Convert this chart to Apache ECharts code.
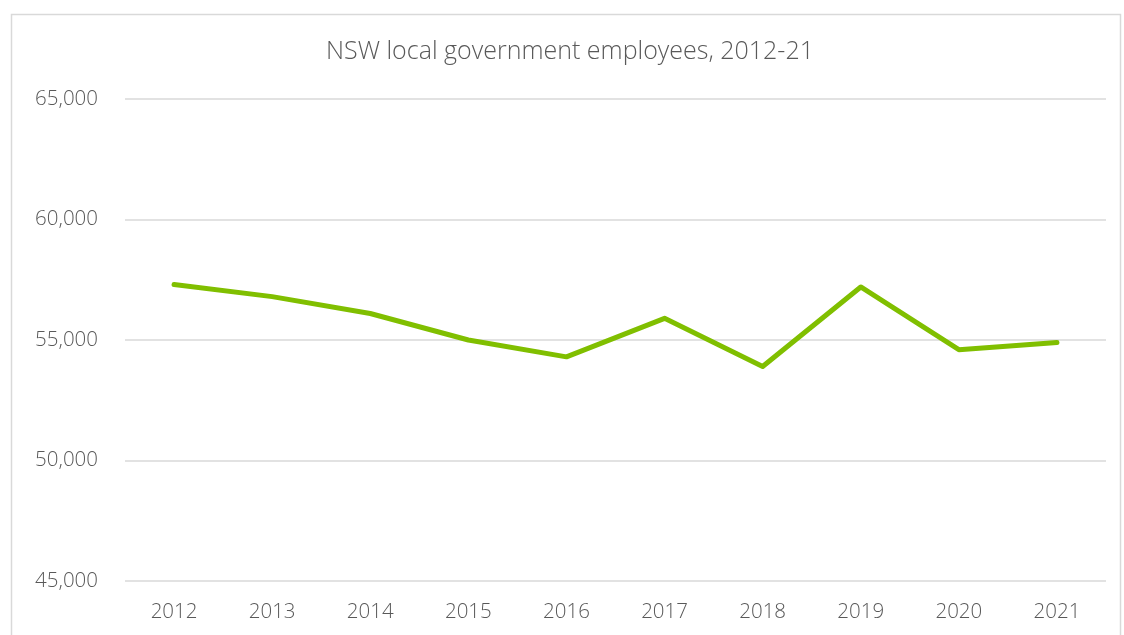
<!DOCTYPE html>
<html>
<head>
<meta charset="utf-8">
<script src="https://cdn.jsdelivr.net/npm/echarts@6/dist/echarts.min.js"></script>
<style>
html,body{margin:0;padding:0;background:#fff;}
#c{width:1124px;height:635px;}
</style>
</head>
<body>
<div id="c"></div>
<script>
const titleText = 'NSW local government employees, 2012-21';
const years = ['2012','2013','2014','2015','2016','2017','2018','2019','2020','2021'];
const employees = [57300, 56800, 56100, 55000, 54300, 55900, 53900, 57200, 54600, 54900];
const yMin = 45000, yMax = 65000, yStep = 5000;

const chart = echarts.init(document.getElementById('c'));
const font = '"Open Sans", "Noto Sans", sans-serif';
chart.setOption({
  animation: false,
  graphic: [{
    type: 'rect', left: 9, top: 12, silent: true,
    shape: { width: 1109, height: 640 },
    style: { fill: 'none', stroke: '#d9d9d9', lineWidth: 1.5 }
  }],
  title: {
    text: titleText, left: 321, top: 34,
    textStyle: { fontFamily: font, fontSize: 25, fontWeight: 300, color: '#595959' }
  },
  grid: { left: 125, right: 18, top: 99, bottom: 54, containLabel: false },
  xAxis: {
    type: 'category', data: years, boundaryGap: true,
    axisLine: { show: false }, axisTick: { show: false },
    axisLabel: { fontFamily: font, fontSize: 20.5, fontWeight: 300, color: '#595959', margin: 21 }
  },
  yAxis: {
    type: 'value', min: yMin, max: yMax, interval: yStep,
    axisLine: { show: false }, axisTick: { show: false },
    splitLine: { lineStyle: { color: '#d9d9d9', width: 1.5 } },
    axisLabel: {
      fontFamily: font, fontSize: 20.5, fontWeight: 300, color: '#595959', margin: 27,
      formatter: v => v.toLocaleString('en-US')
    }
  },
  series: [{
    type: 'line', data: employees, symbol: 'none',
    lineStyle: { color: '#80bf00', width: 5, cap: 'round', join: 'round' }
  }]
});
</script>
</body>
</html>
